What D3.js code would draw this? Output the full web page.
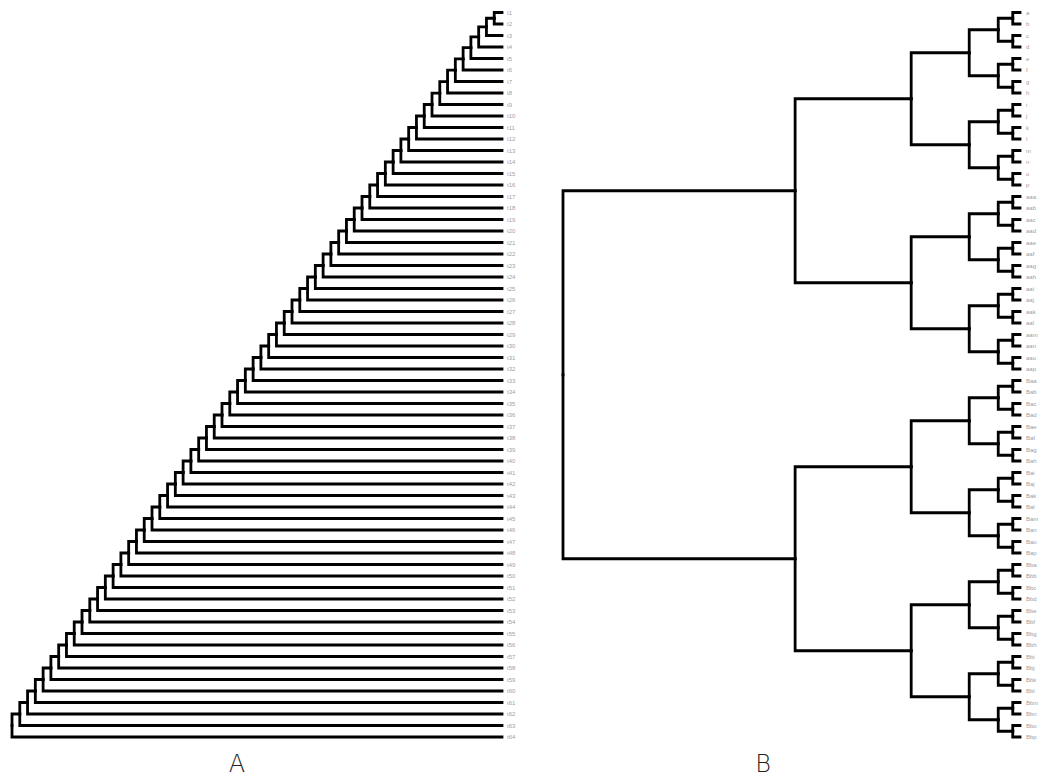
<!DOCTYPE html>
<html>
<head>
<meta charset="utf-8">
<script src="https://cdn.jsdelivr.net/npm/d3@7"></script>
<style>
  body { margin: 0; background: #fff; }
  svg { display: block; }
  .link { fill: none; stroke: #000; stroke-width: 2.8; stroke-linecap: square; stroke-linejoin: miter; }
  .leaf-label { font-family: "Liberation Sans", Arial, sans-serif; font-size: 6px; fill: #a0a0a0; }
  .panel-label { font-family: "DejaVu Sans", sans-serif; font-weight: 200; font-size: 24px; fill: #222; }
</style>
</head>
<body>
<svg id="chart" width="1038" height="777"></svg>
<script>
// leaf labels, top to bottom
const labelsA = ["t1","t2","t3","t4","t5","t6","t7","t8","t9","t10","t11","t12","t13","t14","t15","t16",
  "t17","t18","t19","t20","t21","t22","t23","t24","t25","t26","t27","t28","t29","t30","t31","t32",
  "t33","t34","t35","t36","t37","t38","t39","t40","t41","t42","t43","t44","t45","t46","t47","t48",
  "t49","t50","t51","t52","t53","t54","t55","t56","t57","t58","t59","t60","t61","t62","t63","t64"];

// merge heights for tree A (leaf i+1 joins the cluster above it)
const heightsA = [1,2,3,4,5,6,7,8,9,10,11,12,13,14,15,16,17,18,19,20,21,22,23,24,25,26,27,28,29,30,31,
  32,33,34,35,36,37,38,39,40,41,42,43,44,45,46,47,48,49,50,51,52,53,54,55,56,57,58,59,60,61,62,63];

const labelsB = ["a","b","c","d","e","f","g","h","i","j","k","l","m","n","o","p",
  "aaa","aab","aac","aad","aae","aaf","aag","aah","aai","aaj","aak","aal","aam","aan","aao","aap",
  "Baa","Bab","Bac","Bad","Bae","Baf","Bag","Bah","Bai","Baj","Bak","Bal","Bam","Ban","Bao","Bap",
  "Bba","Bbb","Bbc","Bbd","Bbe","Bbf","Bbg","Bbh","Bbi","Bbj","Bbk","Bbl","Bbm","Bbn","Bbo","Bbp"];

// node heights of balanced tree B by level (leaf, 2, 4, 8, 16, 32, 64 leaves)
const levelHeightsB = [0, 1, 3, 7, 15, 31, 63];

const svg = d3.select("#chart");

function buildA() {
  let node = { name: labelsA[0], idx: 0, height: 0 };
  for (let i = 1; i < labelsA.length; i++) {
    node = { height: heightsA[i - 1], children: [node, { name: labelsA[i], idx: i, height: 0 }] };
  }
  return node;
}

function buildB(lo, hi, level) {
  if (level === 0) return { name: labelsB[lo], idx: lo, height: 0 };
  const mid = (lo + hi) / 2;
  return {
    height: levelHeightsB[level],
    children: [buildB(lo, mid, level - 1), buildB(mid, hi, level - 1)]
  };
}

function drawTree(data, xScale, yScale, labelX) {
  const root = d3.hierarchy(data);
  root.eachAfter(n => {
    n.px = xScale(n.data.height);
    n.py = n.children ? d3.mean(n.children, c => c.py) : yScale(n.data.idx);
  });

  const g = svg.append("g");
  g.selectAll("path.link")
    .data(root.descendants().filter(d => d.parent))
    .join("path")
    .attr("class", "link")
    .attr("d", d => `M${d.px},${d.py}H${d.parent.px}V${d.parent.py}`);

  g.selectAll("text.leaf-label")
    .data(root.leaves())
    .join("text")
    .attr("class", "leaf-label")
    .attr("x", labelX)
    .attr("y", d => d.py)
    .attr("dy", "0.35em")
    .text(d => d.data.name);
}

const yA = d3.scalePoint().domain(d3.range(labelsA.length)).range([12.5, 737]);
const yB = d3.scalePoint().domain(d3.range(labelsB.length)).range([12.5, 737]);

const xA = d3.scaleLinear().domain([63, 0]).range([12, 502]);
const xB = d3.scaleLinear().domain([63, 0]).range([563, 1020]);

drawTree(buildA(), xA, yA, 507);
drawTree(buildB(0, 64, 6), xB, yB, 1026);

svg.append("text").attr("class", "panel-label")
  .attr("x", 237).attr("y", 772).attr("text-anchor", "middle").text("A");
svg.append("text").attr("class", "panel-label")
  .attr("x", 763).attr("y", 772).attr("text-anchor", "middle").text("B");
</script>
</body>
</html>
